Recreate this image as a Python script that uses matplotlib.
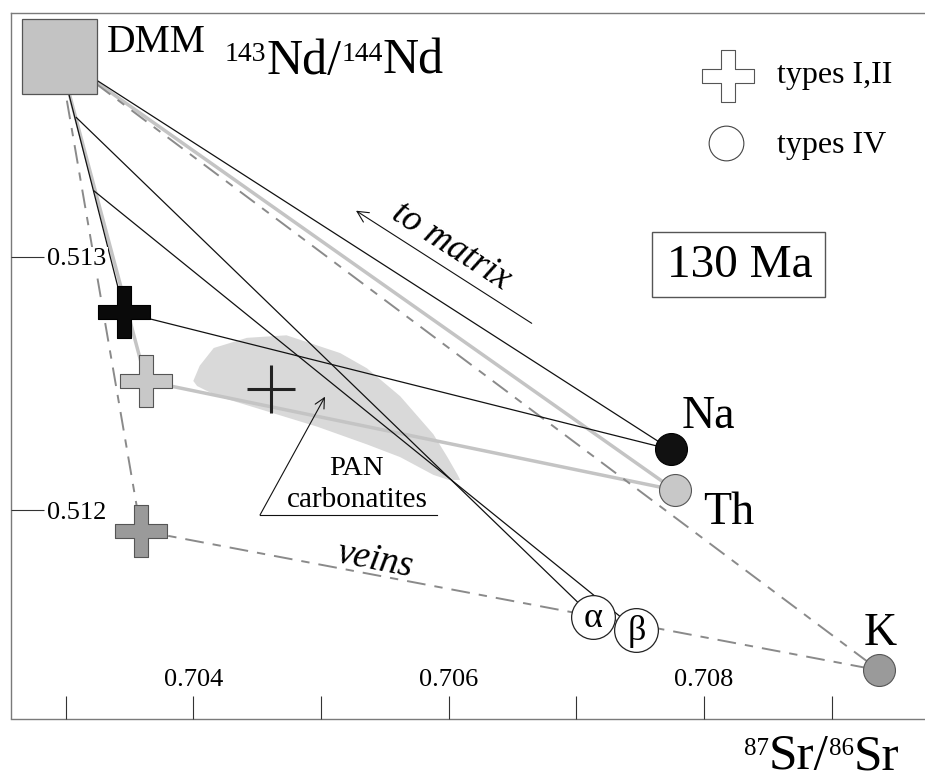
import matplotlib
matplotlib.use('Agg')
import matplotlib.pyplot as plt
from matplotlib.path import Path
from matplotlib.patches import Rectangle
from matplotlib.ticker import FormatStrFormatter

plt.rcParams['font.family'] = ['Liberation Serif', 'DejaVu Serif']
plt.rcParams['lines.scale_dashes'] = False

# ---------------- data (87Sr/86Sr, 143Nd/144Nd) ----------------
dmm_sr = [0.70295]
dmm_nd = [0.51379]

cross_names = ['type I', 'type II', 'veins']
cross_sr = [0.70346, 0.70363, 0.70359]
cross_nd = [0.51278, 0.51251, 0.51192]
cross_face = ['#0a0a0a', '#c8c8c8', '#9a9a9a']

pan_sr = [0.70461]
pan_nd = [0.51248]

end_names = ['Na', 'Th', 'K']
end_sr = [0.70774, 0.70777, 0.70937]
end_nd = [0.51224, 0.51208, 0.51137]
end_face = ['#111111', '#c8c8c8', '#9a9a9a']

vein_names = ['α', 'β']
vein_sr = [0.70713, 0.70747]
vein_nd = [0.51158, 0.51153]

mix_start_sr = [0.70308, 0.70322]
mix_start_nd = [0.51355, 0.51326]

field_sr = [0.70400, 0.70405, 0.70416, 0.70442, 0.70473, 0.70515, 0.70536,
            0.70562, 0.70588, 0.70599, 0.70607, 0.70609, 0.70600, 0.70588,
            0.70562, 0.70536, 0.70497, 0.70458, 0.70419, 0.70403]
field_nd = [0.51251, 0.51257, 0.51264, 0.51268, 0.51269, 0.51262, 0.51256,
            0.51245, 0.51230, 0.51221, 0.51214, 0.51212, 0.51212, 0.51214,
            0.51221, 0.51226, 0.51233, 0.51239, 0.51245, 0.51249]

x_major = [0.704, 0.706, 0.708]
x_minor = [0.703, 0.705, 0.707, 0.709]
y_major = [0.512, 0.513]
xlim = (0.70257, 0.70973)
ylim = (0.51118, 0.51396)

# ---------------- figure ----------------
W, H = 925, 780
fig = plt.figure(figsize=(W / 100, H / 100), dpi=100)
L, R, T, B = 10.7, 925, 13, 718.5
ax = fig.add_axes([L / W, 1 - B / H, (R - L) / W, (B - T) / H])
ax.set_xlim(*xlim)
ax.set_ylim(*ylim)

for s in ['top', 'left', 'bottom']:
    ax.spines[s].set_color('#7a7a7a')
    ax.spines[s].set_linewidth(1.0)
ax.spines['right'].set_visible(False)

ax.set_xticks(x_major)
ax.set_xticks(x_minor, minor=True)
ax.set_yticks(y_major)
ax.xaxis.set_major_formatter(FormatStrFormatter('%.3f'))
ax.yaxis.set_major_formatter(FormatStrFormatter('%.3f'))
ax.tick_params(axis='x', which='both', direction='in', length=16.6, width=0.8,
               color='#333333', pad=-36, labelsize=19)
ax.tick_params(axis='y', which='both', direction='in', length=24, width=0.8,
               color='#333333', pad=-69, labelsize=19)
for lab in ax.get_yticklabels():
    lab.set_bbox(dict(facecolor='white', edgecolor='none', pad=1))
ax.xaxis.set_zorder(8)
ax.yaxis.set_zorder(8)

# PAN carbonatite field
ax.fill(field_sr, field_nd, color='#d9d9d9', lw=0, zorder=1)

thin = dict(color='#111111', lw=0.9, zorder=3, solid_capstyle='butt')
thick = dict(color='#c4c4c4', lw=2.5, zorder=2, solid_capstyle='butt')
dash = dict(color='#8a8a8a', lw=1.4, zorder=2.5, dashes=(13.5, 6.5, 6, 6.5))

# mixing lines from DMM
ax.plot([dmm_sr[0], end_sr[0]], [dmm_nd[0], end_nd[0]], **thin)
ax.plot([dmm_sr[0], cross_sr[0]], [dmm_nd[0], cross_nd[0]], **thin)
ax.plot([cross_sr[0], end_sr[0]], [cross_nd[0], end_nd[0]], **thin)
for i in range(2):
    ax.plot([mix_start_sr[i], vein_sr[i]], [mix_start_nd[i], vein_nd[i]], **thin)

ax.plot([dmm_sr[0], end_sr[1]], [dmm_nd[0], end_nd[1]], **thick)
ax.plot([dmm_sr[0], cross_sr[1]], [dmm_nd[0], cross_nd[1]], **thick)
ax.plot([cross_sr[1], end_sr[1]], [cross_nd[1], end_nd[1]], **thick)

ax.plot([dmm_sr[0], end_sr[2]], [dmm_nd[0], end_nd[2]], **dash)
ax.plot([dmm_sr[0], cross_sr[2]], [dmm_nd[0], cross_nd[2]], **dash)
ax.plot([cross_sr[2], end_sr[2]], [cross_nd[2], end_nd[2]], **dash)

# markers
t = 0.132
cross_path = Path([(-t, 0.5), (t, 0.5), (t, t), (0.5, t), (0.5, -t), (t, -t),
                   (t, -0.5), (-t, -0.5), (-t, -t), (-0.5, -t), (-0.5, t),
                   (-t, t), (-t, 0.5)],
                  [Path.MOVETO] + [Path.LINETO] * 11 + [Path.CLOSEPOLY])

ax.plot(dmm_sr, dmm_nd, marker='s', ms=54, mfc='#c3c3c3', mec='#555555',
        mew=0.9, ls='none', zorder=6)
for i in range(3):
    ax.plot(cross_sr[i], cross_nd[i], marker=cross_path, ms=38,
            mfc=cross_face[i], mec='#000000' if i == 0 else '#555555',
            mew=0.8, ls='none', zorder=6)
ax.plot(pan_sr, pan_nd, marker='+', ms=35, mew=2.2, color='#222222',
        ls='none', zorder=4)
for i in range(3):
    ax.plot(end_sr[i], end_nd[i], marker='o', ms=23, mfc=end_face[i],
            mec='#000000' if i == 0 else '#555555', mew=0.8, ls='none', zorder=6)
for i in range(2):
    ax.plot(vein_sr[i], vein_nd[i], marker='o', ms=31.5, mfc='white',
            mec='#222222', mew=0.9, ls='none', zorder=6 + i)
    ax.annotate(vein_names[i], (vein_sr[i], vein_nd[i]), xytext=(0, -7.2),
                textcoords='offset points', ha='center', va='baseline',
                fontsize=26, zorder=9)

# point labels
end_offsets = [(7.9, 15.6), (20.2, -24.5), (-11.3, 18.5)]
for i in range(3):
    ax.annotate(end_names[i], (end_sr[i], end_nd[i]), xytext=end_offsets[i],
                textcoords='offset points', ha='left', va='baseline', fontsize=33)
ax.annotate('DMM', (dmm_sr[0], dmm_nd[0]), xytext=(34.2, 2.9),
            textcoords='offset points', ha='left', va='baseline', fontsize=28.5)

# axis titles with real superscripts (pieces placed side by side)
renderer = fig.canvas.get_renderer()


def sup_label(x_px, base_px, parts, big, small, raise_px):
    x = x_px
    for s, is_sup in parts:
        y = base_px - (raise_px if is_sup else 0)
        txt = fig.text(x / W, 1 - y / H, s, fontsize=small if is_sup else big,
                       ha='left', va='baseline')
        x += txt.get_window_extent(renderer).width


sup_label(225, 74, [('143', True), ('Nd/', False), ('144', True), ('Nd', False)],
          36, 20, 13)
sup_label(744, 769, [('87', True), ('Sr/', False), ('86', True), ('Sr', False)],
          37, 18, 14)


def axf(px, py):
    return ((px - L) / (R - L), (B - py) / (B - T))


# legend
ax.plot(*axf(728, 75.5), transform=ax.transAxes, marker=cross_path, ms=38,
        mfc='white', mec='#555555', mew=0.8, ls='none', clip_on=False)
ax.plot(*axf(725.7, 142.7), transform=ax.transAxes, marker='o', ms=25,
        mfc='white', mec='#444444', mew=0.8, ls='none', clip_on=False)
ax.text(*axf(776.7, 75), 'types I,II', transform=ax.transAxes, fontsize=23,
        ha='left', va='center')
ax.text(*axf(776.7, 145), 'types IV', transform=ax.transAxes, fontsize=23,
        ha='left', va='center')

# 130 Ma box
x0, y0 = axf(652.3, 296.7)
x1, y1 = axf(825, 231.7)
ax.add_patch(Rectangle((x0, y0), x1 - x0, y1 - y0, transform=ax.transAxes,
                       fill=False, ec='#555555', lw=1.0, zorder=5))
ax.text(*axf(740, 276.7), '130 Ma', transform=ax.transAxes, fontsize=34,
        ha='center', va='baseline')

# to matrix arrow
ax.annotate('', xy=axf(356, 210.7), xytext=axf(531.7, 323.3),
            xycoords='axes fraction', textcoords='axes fraction',
            arrowprops=dict(arrowstyle='->', lw=0.8, color='#111111',
                            mutation_scale=20, shrinkA=0, shrinkB=0))
ax.text(*axf(451, 246.5), 'to matrix', transform=ax.transAxes, fontsize=26.5,
        style='italic', rotation=-32.7, rotation_mode='anchor',
        ha='center', va='center')

# veins label
ax.text(*axf(375, 560), 'veins', transform=ax.transAxes, fontsize=27,
        style='italic', rotation=-11, rotation_mode='anchor',
        ha='center', va='center')

# PAN carbonatites label
ax.text(*axf(356, 475), 'PAN', transform=ax.transAxes, fontsize=20.5,
        ha='center', va='baseline')
ax.text(*axf(357, 506.7), 'carbonatites', transform=ax.transAxes, fontsize=21,
        ha='center', va='baseline')
ax.plot(*zip(axf(260, 515), axf(437.3, 515)), transform=ax.transAxes,
        color='#111111', lw=0.8)
ax.annotate('', xy=axf(325, 396.7), xytext=axf(260, 515),
            xycoords='axes fraction', textcoords='axes fraction',
            arrowprops=dict(arrowstyle='->', lw=0.8, color='#111111',
                            mutation_scale=18, shrinkA=0, shrinkB=0))

fig.savefig('out.png', dpi=100)
